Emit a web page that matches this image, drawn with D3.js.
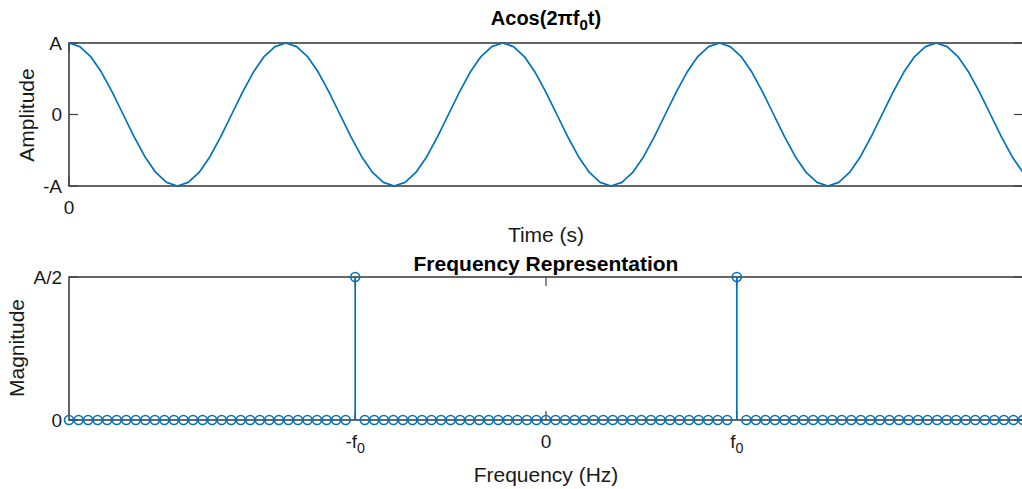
<!DOCTYPE html>
<html>
<head>
<meta charset="utf-8">
<script src="https://cdn.jsdelivr.net/npm/d3@7"></script>
<style>
  body { margin: 0; background: #fff; }
  svg { display: block; font-family: "Liberation Sans", Arial, sans-serif; }
</style>
</head>
<body>
<div id="chart"></div>
<script>
"use strict";

// Time signal in units of A (about 20 samples per period).
const amplitude = [
  1, 0.95, 0.81, 0.59, 0.31, 0, -0.31, -0.59, -0.81, -0.95,
  -1, -0.95, -0.81, -0.59, -0.31, 0, 0.31, 0.59, 0.81, 0.95,
  1, 0.95, 0.81, 0.59, 0.31, 0, -0.31, -0.59, -0.81, -0.95,
  -1, -0.95, -0.81, -0.59, -0.31, 0, 0.31, 0.59, 0.81, 0.95,
  1, 0.95, 0.81, 0.59, 0.31, 0, -0.31, -0.59, -0.81, -0.95,
  -1, -0.95, -0.81, -0.59, -0.31, 0, 0.31, 0.59, 0.81, 0.95,
  1, 0.95, 0.81, 0.59, 0.31, 0, -0.31, -0.59, -0.81, -0.95,
  -1, -0.95, -0.81, -0.59, -0.31, 0, 0.31, 0.59, 0.81, 0.95,
  1, 0.95, 0.81, 0.59, 0.31, 0, -0.31, -0.59, -0.81
];
const amplitudeTicks = [-1, 0, 1];
const amplitudeTickLabels = ["-A", "0", "A"];
const timeTicks = [0];
const timeTickLabels = ["0"];

// Spectrum: bins -50..50, the two spikes at -f0 and f0 (bin 20).
const freqBins = d3.range(-50, 51);
const magnitude = [
  0, 0, 0, 0, 0, 0, 0, 0, 0, 0, 0, 0, 0, 0, 0, 0, 0, 0, 0, 0,
  0, 0, 0, 0, 0, 0, 0, 0, 0, 0, 0.5, 0, 0, 0, 0, 0, 0, 0, 0, 0,
  0, 0, 0, 0, 0, 0, 0, 0, 0, 0, 0, 0, 0, 0, 0, 0, 0, 0, 0, 0,
  0, 0, 0, 0, 0, 0, 0, 0, 0, 0, 0.5, 0, 0, 0, 0, 0, 0, 0, 0, 0,
  0, 0, 0, 0, 0, 0, 0, 0, 0, 0, 0, 0, 0, 0, 0, 0, 0, 0, 0, 0,
  0
];
const magnitudeTicks = [0, 0.5];
const magnitudeTickLabels = ["0", "A/2"];
const freqTicks = [-20, 0, 20];
const freqTickLabels = [["-f", "0"], ["0", ""], ["f", "0"]];

const blue = "#0072BD";
const axisColour = "#404040";
const textColour = "#1a1a1a";
const tickLen = 9;

let svg = d3.select("#chart")
  .append("svg")
  .attr("width", 1022)
  .attr("height", 489);

let xTime = d3.scaleLinear().domain([0, amplitude.length - 1]).range([69, 1023]);
let yAmp = d3.scaleLinear().domain([-1, 1]).range([186, 43]);
let xFreq = d3.scaleLinear().domain([-50, 50]).range([69, 1023]);
let yMag = d3.scaleLinear().domain([0, 0.5]).range([420, 277]);

// Writes base text followed by a subscript, e.g. f0.
function subText(sel, base, sub, after, shift) {
  sel.text(null);
  sel.append("tspan").text(base);
  if (sub) {
    sel.append("tspan").attr("font-size", "75%").attr("dy", shift).text(sub);
  }
  if (after) {
    sel.append("tspan").attr("dy", -shift).text(after);
  }
}

// Box with inward MATLAB-style ticks.
function drawBox(x, y, xTicks, xLabels, yTicks, yLabels) {
  let g = svg.append("g");
  let [x0, x1] = x.range();
  let [y0, y1] = y.range();

  g.append("rect")
    .attr("x", x0).attr("y", y1)
    .attr("width", x1 - x0).attr("height", y0 - y1)
    .attr("fill", "none")
    .attr("stroke", axisColour)
    .attr("stroke-width", 1.6);

  xTicks.forEach(t => {
    g.append("line").attr("x1", x(t)).attr("x2", x(t)).attr("y1", y0).attr("y2", y0 - tickLen)
      .attr("stroke", axisColour).attr("stroke-width", 1.2);
    g.append("line").attr("x1", x(t)).attr("x2", x(t)).attr("y1", y1).attr("y2", y1 + tickLen)
      .attr("stroke", axisColour).attr("stroke-width", 1.2);
  });
  yTicks.forEach(t => {
    g.append("line").attr("x1", x0).attr("x2", x0 + tickLen).attr("y1", y(t)).attr("y2", y(t))
      .attr("stroke", axisColour).attr("stroke-width", 1.2);
    g.append("line").attr("x1", x1).attr("x2", x1 - tickLen).attr("y1", y(t)).attr("y2", y(t))
      .attr("stroke", axisColour).attr("stroke-width", 1.2);
  });

  g.selectAll("text.ylab")
    .data(yTicks)
    .enter()
    .append("text")
    .attr("class", "ylab")
    .attr("x", x0 - 7)
    .attr("y", d => y(d))
    .attr("dy", "0.35em")
    .attr("text-anchor", "end")
    .attr("fill", textColour)
    .style("font-size", "19px")
    .text((d, i) => yLabels[i]);

  g.selectAll("text.xlab")
    .data(xTicks)
    .enter()
    .append("text")
    .attr("class", "xlab")
    .attr("x", d => x(d))
    .attr("y", y0 + 28)
    .attr("text-anchor", "middle")
    .attr("fill", textColour)
    .style("font-size", "19px")
    .each(function(d, i) {
      let lab = xLabels[i];
      if (Array.isArray(lab)) {
        subText(d3.select(this), lab[0], lab[1], "", 5);
      } else {
        d3.select(this).text(lab);
      }
    });
}

drawBox(xTime, yAmp, timeTicks, timeTickLabels, amplitudeTicks, amplitudeTickLabels);
drawBox(xFreq, yMag, freqTicks, freqTickLabels, magnitudeTicks, magnitudeTickLabels);

// Time signal line.
let line = d3.line()
  .x((d, i) => xTime(i))
  .y(d => yAmp(d));

svg.append("path")
  .datum(amplitude)
  .attr("d", line)
  .attr("fill", "none")
  .attr("stroke", blue)
  .attr("stroke-width", 1.7)
  .attr("stroke-linejoin", "round");

// Stem plot of the spectrum.
let stems = svg.append("g").selectAll("g")
  .data(freqBins)
  .enter()
  .append("g");

stems.append("line")
  .attr("x1", d => xFreq(d))
  .attr("x2", d => xFreq(d))
  .attr("y1", yMag(0))
  .attr("y2", (d, i) => yMag(magnitude[i]))
  .attr("stroke", blue)
  .attr("stroke-width", 1.7);

stems.append("circle")
  .attr("cx", d => xFreq(d))
  .attr("cy", (d, i) => yMag(magnitude[i]))
  .attr("r", 4.5)
  .attr("fill", "none")
  .attr("stroke", blue)
  .attr("stroke-width", 1.6);

// Titles and axis labels.
let title1 = svg.append("text")
  .attr("x", 546).attr("y", 25)
  .attr("text-anchor", "middle")
  .attr("fill", "#000")
  .style("font-size", "20px")
  .style("font-weight", "bold");
subText(title1, "Acos(2\u03c0f", "0", "t)", 5);

svg.append("text")
  .attr("x", 546).attr("y", 271)
  .attr("text-anchor", "middle")
  .attr("fill", "#000")
  .style("font-size", "21px")
  .style("font-weight", "bold")
  .text("Frequency Representation");

svg.append("text")
  .attr("x", 546).attr("y", 242)
  .attr("text-anchor", "middle")
  .attr("fill", textColour)
  .style("font-size", "21px")
  .text("Time (s)");

svg.append("text")
  .attr("x", 546).attr("y", 482)
  .attr("text-anchor", "middle")
  .attr("fill", textColour)
  .style("font-size", "21px")
  .text("Frequency (Hz)");

svg.append("text")
  .attr("transform", "translate(34,115) rotate(-90)")
  .attr("text-anchor", "middle")
  .attr("fill", textColour)
  .style("font-size", "21px")
  .text("Amplitude");

svg.append("text")
  .attr("transform", "translate(24,348) rotate(-90)")
  .attr("text-anchor", "middle")
  .attr("fill", textColour)
  .style("font-size", "21px")
  .text("Magnitude");
</script>
</body>
</html>
